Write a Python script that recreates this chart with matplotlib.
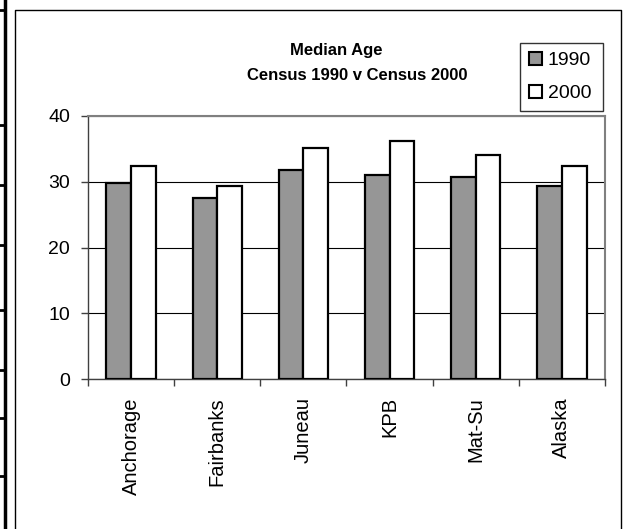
import matplotlib
matplotlib.use("Agg")
import matplotlib.pyplot as plt
from matplotlib.lines import Line2D
from matplotlib.patches import Patch
import numpy as np

plt.rcParams['font.family'] = ['Liberation Sans', 'DejaVu Sans']

categories = ["Anchorage", "Fairbanks", "Juneau", "KPB", "Mat-Su", "Alaska"]
age_1990 = [29.8, 27.6, 31.8, 31.0, 30.7, 29.3]
age_2000 = [32.4, 29.4, 35.2, 36.2, 34.1, 32.4]
series_names = ["1990", "2000"]
title_lines = ["Median Age", "Census 1990 v Census 2000"]
yticks = [0, 10, 20, 30, 40]

W, H = 624, 529
fig = plt.figure(figsize=(W / 100, H / 100), dpi=100)

def fx(px):
    return px / W

def fy(py):
    return 1 - py / H

# left table strip
fig.add_artist(Line2D([fx(5), fx(5)], [0, 1], color="black", lw=2.5, transform=fig.transFigure))
for yy in [10, 125, 185, 245, 310, 370, 418, 476]:
    fig.add_artist(Line2D([0, fx(5)], [fy(yy), fy(yy)], color="black", lw=2, transform=fig.transFigure))

# chart border
fig.add_artist(Line2D([fx(15), fx(15), fx(621), fx(621)], [0, fy(10), fy(10), 0],
                      color="black", lw=1, transform=fig.transFigure))

ax = fig.add_axes([fx(88), fy(379), fx(605) - fx(88), fy(116) - fy(379)])

x = np.arange(len(categories))
w = 1 / 3.5
ax.bar(x - w / 2, age_1990, width=w, color="#969696", edgecolor="black", linewidth=1.6,
       label=series_names[0], zorder=3)
ax.bar(x + w / 2, age_2000, width=w, color="white", edgecolor="black", linewidth=1.6,
       label=series_names[1], zorder=3)

ax.set_xlim(-0.5, len(categories) - 0.5)
ax.set_ylim(0, 40)
ax.set_yticks(yticks)
ax.yaxis.grid(True, color="black", lw=0.8, zorder=0)
ax.set_axisbelow(True)

ax.set_xticks(np.arange(len(categories) + 1) - 0.5)
ax.set_xticklabels([])
ax.set_xticks(x, minor=True)
ax.set_xticklabels(categories, minor=True, rotation=90, fontsize=14.5, va="top", ha="center")
ax.tick_params(axis="x", which="minor", length=0, pad=13)
ax.tick_params(axis="x", which="major", direction="out", length=5, color="#404040", width=1)
ax.tick_params(axis="y", direction="out", length=5, color="#404040", width=1, labelsize=14, pad=8)

for s in ["top", "right"]:
    ax.spines[s].set_color("#808080")
    ax.spines[s].set_linewidth(1.5)
for s in ["left", "bottom"]:
    ax.spines[s].set_color("#404040")
    ax.spines[s].set_linewidth(1)

fig.text(fx(336), fy(51), title_lines[0], ha="center", va="center", fontsize=12, fontweight="bold")
fig.text(fx(357), fy(76), title_lines[1], ha="center", va="center", fontsize=12, fontweight="bold")

handles = [Patch(facecolor="#969696", edgecolor="black", linewidth=1.5),
           Patch(facecolor="white", edgecolor="black", linewidth=1.5)]
leg = fig.legend(handles, series_names, loc="upper left",
                 bbox_to_anchor=(fx(520), fy(110), fx(603) - fx(520), fy(43) - fy(110)),
                 mode="expand", fontsize=14, frameon=True, fancybox=False,
                 handlelength=0.67, handleheight=0.67, handletextpad=0.3,
                 borderpad=0.45, labelspacing=0.8, borderaxespad=0)
leg.get_frame().set_edgecolor("black")
leg.get_frame().set_linewidth(1)

fig.savefig("out.png", dpi=100)
